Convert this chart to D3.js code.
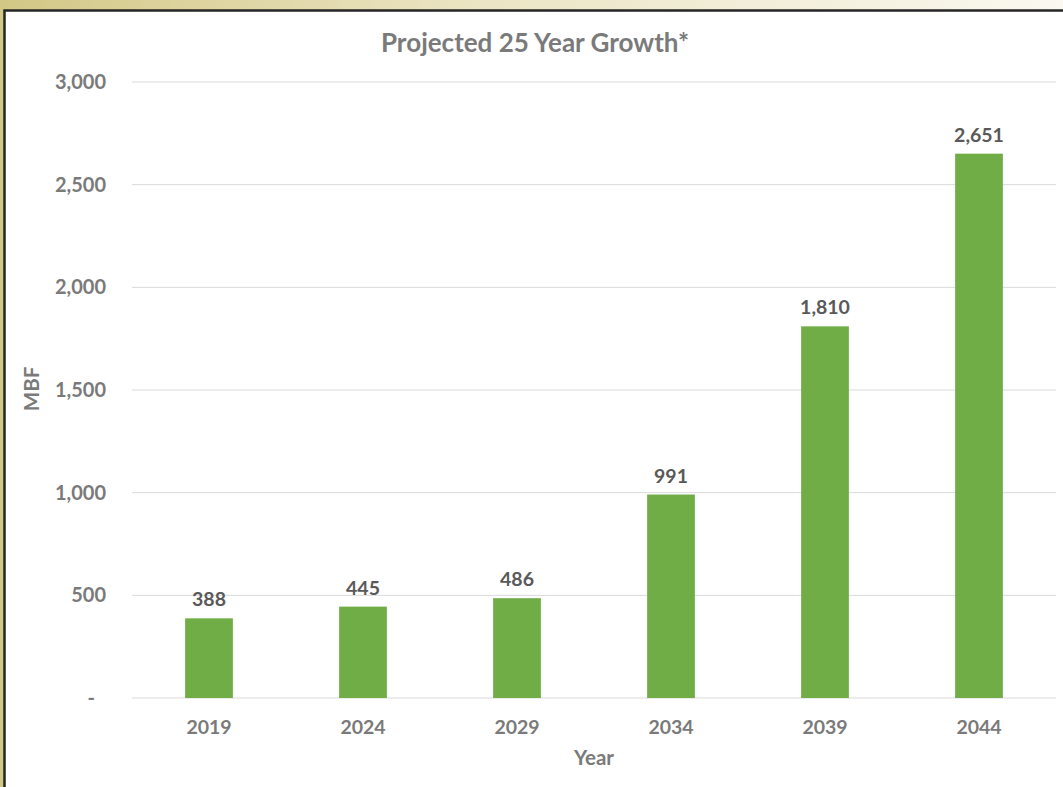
<!DOCTYPE html>
<html lang="en">
<head>
    <meta charset="UTF-8">
    <title>Projected 25 Year Growth</title>
    <script src="https://d3js.org/d3.v7.min.js"></script>
    <style>
        body { margin: 0; }
        text { font-family: Lato, "Open Sans", sans-serif; font-weight: bold; }
    </style>
</head>
<body>
<script>
    const width  = 1063;
    const height = 787;

    const years  = ["2019", "2024", "2029", "2034", "2039", "2044"];
    const values = [388, 445, 486, 991, 1810, 2651];
    const yTicks = [0, 500, 1000, 1500, 2000, 2500, 3000];

    const plotLeft = 132, plotRight = 1056, plotTop = 82, plotBottom = 698;

    const svg = d3.select("body").append("svg").attr("width", width).attr("height", height);

    // beige frame around the slide panel
    const defs = svg.append("defs");
    const grad = defs.append("linearGradient").attr("id", "beige");
    grad.append("stop").attr("offset", "0%").attr("stop-color", "#d3c785");
    grad.append("stop").attr("offset", "45%").attr("stop-color", "#ebe5c4");
    grad.append("stop").attr("offset", "100%").attr("stop-color", "#faf8f0");
    svg.append("rect").attr("width", width).attr("height", height).attr("fill", "url(#beige)");
    svg.append("rect").attr("x", 0).attr("y", 0).attr("width", 4).attr("height", height).attr("fill", "#d3c785");
    svg.append("rect").attr("x", 4.5).attr("y", 10.5).attr("width", width + 10).attr("height", height)
        .attr("fill", "#fff").attr("stroke", "#262626").attr("stroke-width", 2.5);

    const x = d3.scaleBand().domain(years).range([plotLeft, plotRight]).paddingInner(0.69).paddingOuter(0.345);
    const y = d3.scaleLinear().domain([0, 3000]).range([plotBottom, plotTop]);

    // gridlines
    svg.append("g").selectAll("line").data(yTicks).join("line")
        .attr("x1", plotLeft).attr("x2", plotRight)
        .attr("y1", d => y(d)).attr("y2", d => y(d))
        .attr("stroke", "#d9d9d9").attr("stroke-width", 1);

    const yAxis = d3.axisLeft(y).tickValues(yTicks).tickSize(0).tickPadding(0)
        .tickFormat(d => d === 0 ? "-" : d3.format(",")(d));
    const gy = svg.append("g").attr("transform", "translate(" + [106, 0] + ")").call(yAxis);
    gy.select(".domain").remove();
    gy.selectAll("text").attr("fill", "#7a7a7a").style("font-size", "20px")
        .attr("dx", d => d === 0 ? -11 : 0);

    // bars
    svg.append("g").selectAll("rect").data(values).join("rect")
        .attr("x", (d, i) => x(years[i]))
        .attr("width", x.bandwidth())
        .attr("y", d => y(d))
        .attr("height", d => y(0) - y(d))
        .attr("fill", "#70ad47");

    // value labels
    svg.append("g").selectAll("text").data(values).join("text")
        .attr("x", (d, i) => x(years[i]) + x.bandwidth() / 2)
        .attr("y", d => y(d) - 12)
        .attr("text-anchor", "middle")
        .attr("fill", "#595959")
        .style("font-size", "19.5px")
        .text(d => d3.format(",")(d));

    const xAxis = d3.axisBottom(x).tickSize(0).tickPadding(0);
    const gx = svg.append("g").attr("transform", "translate(" + [0, 734] + ")").call(xAxis);
    gx.select(".domain").remove();
    gx.selectAll("text").attr("dy", 0).attr("fill", "#7a7a7a").style("font-size", "19.5px");

    svg.append("text").attr("x", 535).attr("y", 52).attr("text-anchor", "middle")
        .attr("fill", "#7a7a7a").style("font-size", "26px").text("Projected 25 Year Growth*");

    svg.append("text").attr("x", 594).attr("y", 765).attr("text-anchor", "middle")
        .attr("fill", "#7a7a7a").style("font-size", "20.5px").text("Year");

    svg.append("text").attr("transform", "translate(39,389) rotate(-90)").attr("text-anchor", "middle")
        .attr("fill", "#7a7a7a").style("font-size", "20.5px").text("MBF");
</script>
</body>
</html>
